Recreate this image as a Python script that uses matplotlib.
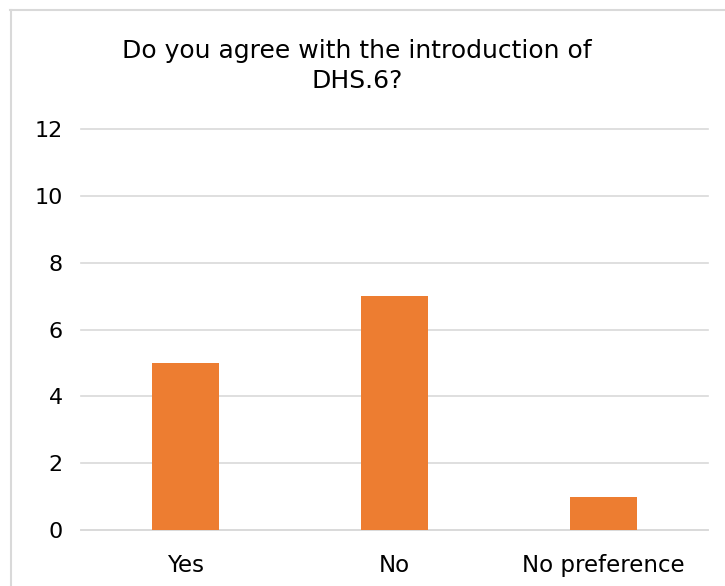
import matplotlib
matplotlib.use("Agg")
import matplotlib.pyplot as plt
from matplotlib.lines import Line2D

categories = ["Yes", "No", "No preference"]
values = [5, 7, 1]
yticks = [0, 2, 4, 6, 8, 10, 12]
title = "Do you agree with the introduction of\nDHS.6?"

plt.rcParams['font.family'] = ['DejaVu Sans']

W, H = 725, 586
fig = plt.figure(figsize=(W / 100, H / 100), dpi=100)
# axes: x from 81 to 708 px, y=0 at 530 px, y=12 at 129 px (from top)
ax = fig.add_axes([81 / W, (H - 530) / H, (708 - 81) / W, (530 - 129) / H])

x = list(range(len(categories)))
ax.bar(x, values, width=0.316, color="#ED7D31", zorder=3)
ax.set_xlim(-0.5, len(categories) - 0.5)
ax.set_ylim(0, 12)
ax.set_yticks(yticks)
ax.set_yticklabels([str(t) for t in yticks], fontsize=16)
ax.set_xticks(x)
ax.set_xticklabels(categories, fontsize=16.5)
ax.yaxis.grid(True, color="#d9d9d9", linewidth=1.2, zorder=0)
for gl in ax.get_ygridlines():
    gl.set_clip_on(False)
for s in ["top", "right", "left"]:
    ax.spines[s].set_visible(False)
ax.spines["bottom"].set_color("#d9d9d9")
ax.spines["bottom"].set_linewidth(1.2)
ax.tick_params(axis="both", length=0, colors="#000000")
ax.tick_params(axis="y", pad=13)
ax.tick_params(axis="x", pad=17)

fig.text(357 / W, (H - 66) / H, title, ha="center", va="center", fontsize=18, linespacing=1.35)

# chart border (cropped: only left and top edges visible)
bc = "#d9d9d9"
fig.add_artist(Line2D([10.5 / W, 10.5 / W], [0, (H - 10) / H], transform=fig.transFigure,
                      color=bc, linewidth=1.5))
fig.add_artist(Line2D([10 / W, 1], [(H - 10) / H, (H - 10) / H], transform=fig.transFigure,
                      color=bc, linewidth=1.5))

fig.savefig("out.png", dpi=100)
